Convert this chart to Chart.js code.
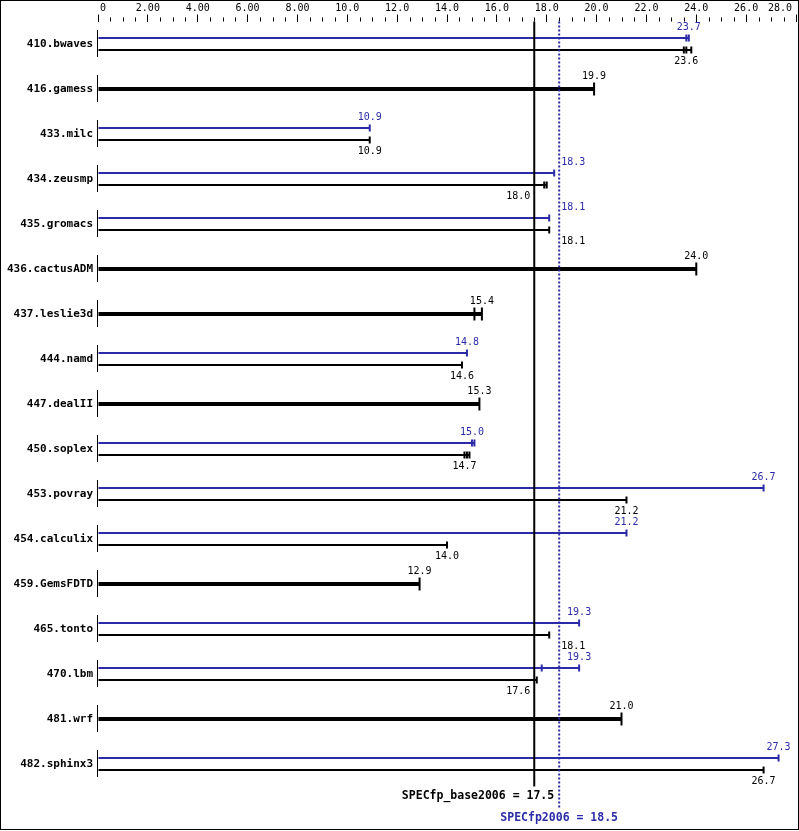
<!DOCTYPE html>
<html>
<head>
<meta charset="utf-8">
<script src="https://cdn.jsdelivr.net/npm/chart.js@4.4.1/dist/chart.umd.min.js"></script>
<style>
    html, body { margin: 0; padding: 0; background: #fff; }
    canvas { display: block; }
</style>
</head>
<body>
<canvas id="myChart" width="799" height="831"></canvas>
<script>
const benchmarks = ['410.bwaves', '416.gamess', '433.milc', '434.zeusmp', '435.gromacs', '436.cactusADM',
    '437.leslie3d', '444.namd', '447.dealII', '450.soplex', '453.povray', '454.calculix', '459.GemsFDTD',
    '465.tonto', '470.lbm', '481.wrf', '482.sphinx3'];
const baseRatio = [23.6, 19.9, 10.9, 18.0, 18.1, 24.0, 15.4, 14.6, 15.3, 14.7, 21.2, 14.0, 12.9, 18.1, 17.6, 21.0, 26.7];
const peakRatio = [23.7, null, 10.9, 18.3, 18.1, null, null, 14.8, null, 15.0, 26.7, 21.2, null, 19.3, 19.3, null, 27.3];
// individual run values (tick marks at the end of each line)
const baseRuns = [[23.5, 23.6, 23.8], [19.9], [10.9], [17.9, 18.0], [18.1], [24.0], [15.1, 15.4], [14.6], [15.3],
    [14.7, 14.8, 14.9], [21.2], [14.0], [12.9], [18.1], [17.6], [21.0], [26.7]];
const peakRuns = [[23.6, 23.7], null, [10.9], [18.3], [18.1], null, null, [14.8], null,
    [15.0, 15.1], [26.7], [21.2], null, [19.3], [17.8, 19.3], null, [27.3]];
const tickLabels = ['0', '2.00', '4.00', '6.00', '8.00', '10.0', '12.0', '14.0', '16.0', '18.0', '20.0',
    '22.0', '24.0', '26.0', '28.0'];
const baseMean = 17.5;
const peakMean = 18.5;
const baseMeanLabel = 'SPECfp_base2006 = 17.5';
const peakMeanLabel = 'SPECfp2006 = 18.5';

const BLUE = '#2b2ba8';
const FONT = '"DejaVu Sans Mono", monospace';

const baseBar = baseRuns.map(r => r ? Math.max(...r) : null);
const peakBar = peakRuns.map(r => r ? Math.max(...r) : null);

const specPlugin = {
    id: 'spec',
    afterDatasetsDraw(chart) {
        const { ctx, chartArea } = chart;
        const x = chart.scales.x;
        const y = chart.scales.y;
        ctx.save();

        // minor ticks
        ctx.strokeStyle = '#000';
        ctx.lineWidth = 1;
        ctx.beginPath();
        for (let v = 0.5; v < 28; v += 0.5) {
            if (v % 2 === 0) continue;
            const px = Math.round(x.getPixelForValue(v)) + 0.5;
            ctx.moveTo(px, chartArea.top - 4);
            ctx.lineTo(px, chartArea.top);
        }
        ctx.stroke();

        // tick labels
        ctx.font = `10px ${FONT}`;
        ctx.fillStyle = '#000';
        ctx.textAlign = 'center';
        ctx.textBaseline = 'alphabetic';
        x.ticks.forEach((t, i) => {
            const label = tickLabels[i];
            if (!label) return;
            const w = ctx.measureText(label).width;
            let cx = x.getPixelForValue(t.value);
            cx = Math.max(cx, chartArea.left + w / 2 + 2);
            cx = Math.min(cx, chart.width - 7 - w / 2);
            ctx.fillText(label, cx, 11);
        });

        // left axis segments per row
        ctx.beginPath();
        benchmarks.forEach((b, i) => {
            const cy = y.getPixelForValue(i);
            ctx.moveTo(chartArea.left - 0.5, cy - 14);
            ctx.lineTo(chartArea.left - 0.5, cy + 13);
        });
        ctx.stroke();

        // run ticks
        chart.data.datasets.forEach((ds, di) => {
            const meta = chart.getDatasetMeta(di);
            meta.data.forEach((bar, i) => {
                const runs = ds.runs[i];
                if (!runs || ds.data[i] == null) return;
                const half = bar.height > 3 ? 6.5 : 3.5;
                ctx.strokeStyle = ds.backgroundColor;
                ctx.lineWidth = 2;
                ctx.beginPath();
                runs.forEach(v => {
                    const px = x.getPixelForValue(v);
                    ctx.moveTo(px, bar.y - half);
                    ctx.lineTo(px, bar.y + half);
                });
                ctx.stroke();
            });
        });

        // mean lines
        const bx = x.getPixelForValue(baseMean);
        const pxm = x.getPixelForValue(peakMean);
        ctx.strokeStyle = '#000';
        ctx.lineWidth = 2;
        ctx.beginPath();
        ctx.moveTo(bx, chartArea.top);
        ctx.lineTo(bx, chartArea.bottom);
        ctx.stroke();
        ctx.strokeStyle = BLUE;
        ctx.setLineDash([2, 2]);
        ctx.beginPath();
        ctx.moveTo(pxm, chartArea.top);
        ctx.lineTo(pxm, chartArea.bottom + 21);
        ctx.stroke();
        ctx.setLineDash([]);

        // value labels
        ctx.font = `10px ${FONT}`;
        const place = (v, w) => {
            let cx = x.getPixelForValue(v);
            if (cx + w / 2 >= bx - 1 && cx - w / 2 <= pxm + 1) {
                cx = v <= (baseMean + peakMean) / 2 ? bx - 4 - w / 2 : pxm + 2 + w / 2;
            }
            return cx;
        };
        const peakMeta = chart.getDatasetMeta(0);
        const baseMeta = chart.getDatasetMeta(1);
        benchmarks.forEach((b, i) => {
            if (peakRatio[i] != null) {
                const label = peakRatio[i].toFixed(1);
                const w = ctx.measureText(label).width;
                ctx.fillStyle = BLUE;
                ctx.fillText(label, place(peakRatio[i], w), peakMeta.data[i].y - 8);
            }
            const label = baseRatio[i].toFixed(1);
            const w = ctx.measureText(label).width;
            const by = baseMeta.data[i].y;
            ctx.fillStyle = '#000';
            ctx.fillText(label, place(baseRatio[i], w), peakRatio[i] != null ? by + 14 : by - 10);
        });

        // mean labels
        ctx.font = `bold 11.5px ${FONT}`;
        ctx.fillStyle = '#000';
        ctx.textAlign = 'right';
        ctx.fillText(baseMeanLabel, pxm - 5, chartArea.bottom + 12);
        ctx.fillStyle = BLUE;
        ctx.textAlign = 'center';
        ctx.fillText(peakMeanLabel, pxm, chartArea.bottom + 34);

        // frame
        ctx.strokeStyle = '#000';
        ctx.lineWidth = 1;
        ctx.strokeRect(0.5, 0.5, chart.width - 1, chart.height - 2);
        ctx.restore();
    }
};

const ctx = document.getElementById('myChart');
const myChart = new Chart(ctx, {
    type: 'bar',
    data: {
        labels: benchmarks,
        datasets: [
            { label: 'peak', data: peakBar, runs: peakRuns, backgroundColor: BLUE },
            { label: 'base', data: baseBar, runs: baseRuns, backgroundColor: '#000' }
        ]
    },
    options: {
        indexAxis: 'y',
        responsive: false,
        animation: false,
        categoryPercentage: 24 / 45,
        barPercentage: 1 / 6,
        skipNull: true,
        layout: {
            autoPadding: false,
            padding: { left: 0, right: 3, top: 0, bottom: 44.5 }
        },
        plugins: {
            legend: { display: false },
            tooltip: { enabled: false }
        },
        scales: {
            x: {
                position: 'top',
                min: 0,
                max: 28,
                ticks: { stepSize: 2, display: false },
                grid: { drawOnChartArea: false, drawTicks: true, tickLength: 7, color: '#000' },
                border: { display: false },
                afterFit: scale => { scale.height = 21.5; }
            },
            y: {
                ticks: {
                    color: '#000',
                    padding: 5,
                    font: { family: FONT, size: 11, weight: 'bold' }
                },
                grid: { display: false, drawTicks: false },
                border: { display: false },
                afterFit: scale => { scale.width = 98; }
            }
        }
    },
    plugins: [specPlugin]
});
</script>
</body>
</html>
